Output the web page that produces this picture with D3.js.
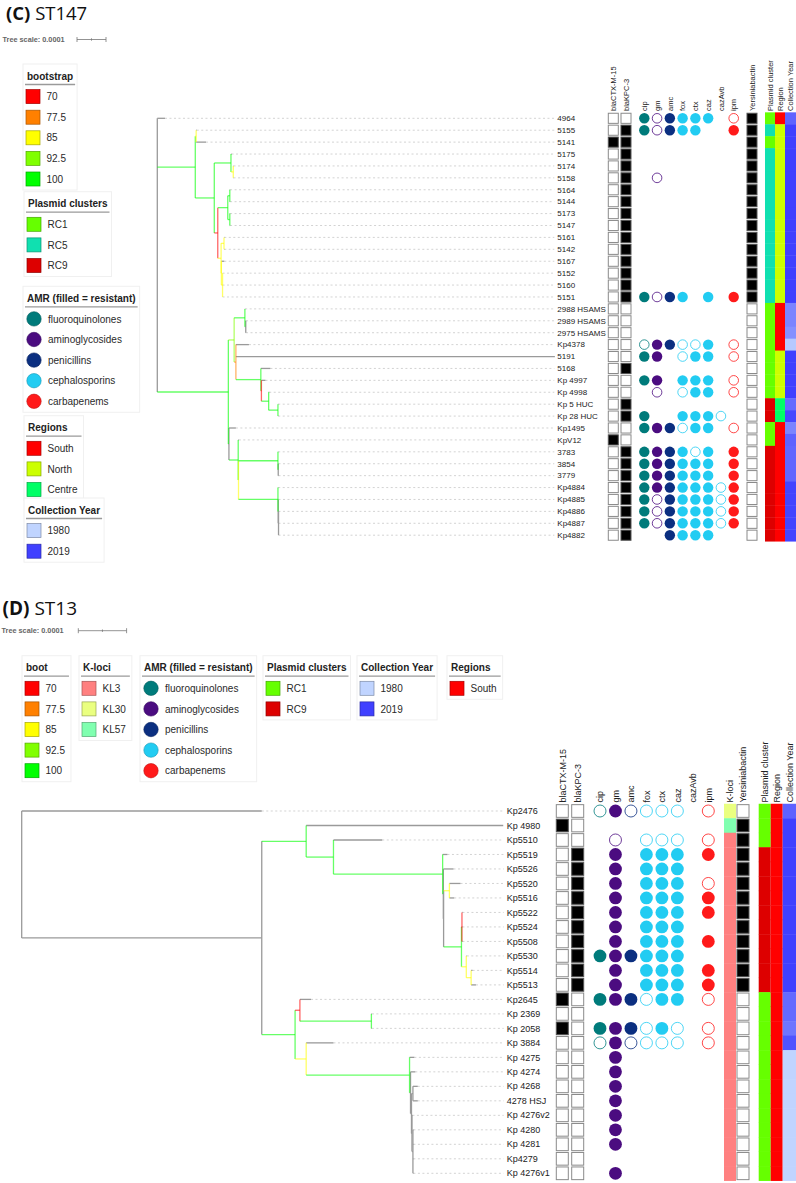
<!DOCTYPE html>
<html><head><meta charset="utf-8">
<script src="https://cdn.jsdelivr.net/npm/d3@7"></script>
<style>body{margin:0;background:#fff}svg{display:block}</style>
</head><body><svg id="c" width="796" height="1183"></svg>
<script>
// ================= DATA =================
const bootValues = [70, 77.5, 85, 92.5, 100];
const bootColors = ["#ff0000", "#ff8000", "#ffff00", "#80ff00", "#00ff00"];
const drugs = ["cip", "gm", "amc", "fox", "ctx", "caz", "cazAvb", "ipm"];
const drugClassOf = ["fluoroquinolones", "aminoglycosides", "penicillins", "cephalosporins", "cephalosporins", "cephalosporins", "cephalosporins", "carbapenems"];
const amrClasses = ["fluoroquinolones", "aminoglycosides", "penicillins", "cephalosporins", "carbapenems"];
const amrColors = ["#007b7b", "#4b0c80", "#0b2f80", "#22ccf2", "#ff1a1a"];
const plasmidNames = ["RC1", "RC5", "RC9"];
const plasmidColors = ["#66ff00", "#10e0b0", "#dd0000"];
const regionNames = ["South", "North", "Centre"];
const regionColors = ["#ff0000", "#ccff00", "#00ff66"];
const klociNames = ["KL3", "KL30", "KL57"];
const klociColors = ["#ff8080", "#eaff80", "#80ffb0"];
const yearLegend = [1980, 2019];
const yearColors = ["#c0d4ff", "#4040ff"];

// ---- ST147 (branch lengths in units of 1e-5 substitutions/site; internal labels = bootstrap)
const st147Newick = "(4964:2.65,((5155:0.2,5141:3.4)85:0.3,((5175:0.2,(5174:0.1,5158:0.1)85:0.8)100:5.75,(((5164:0.1,5144:0.1)100:0.7,(5173:0.1,5147:0.1)100:0.7)100:3.45,((5161:0.1,5142:0.1)85:1.0,(5167:1.0,(5152:0,5160:0,5151:0)85:0.4)85:0.1)85:1.15)70:1.2)100:6.55)100:13.1,(((2988 HSAMS:0.1,(2989 HSAMS:0.1,2975 HSAMS:0.1):0.3)100:3.7,(Kp4378:4.5,5191:110,(5168:3.3,(Kp 4997:1.4,(Kp 4998:0.2,(Kp 5 HUC:0.1,Kp 28 HUC:0.1)100:3.2)100:2.5)70:0.2)100:8.6)77.5:0.6)92.5:2.0,(Kp1495:2.4,(KpV12:0.2,((3783:0.1,(3854:0.1,3779:0.1):0.1)100:13.6,(Kp4884:0.1,(Kp4885:0.1,(Kp4886:0,Kp4887:0,Kp4882:0):0.1):0.1)100:13.6)85:0.1)100:3.2):0.2)100:24.5);";
const st147Isolates = ["4964","5155","5141","5175","5174","5158","5164","5144","5173","5147","5161","5142","5167","5152","5160","5151","2988 HSAMS","2989 HSAMS","2975 HSAMS","Kp4378","5191","5168","Kp 4997","Kp 4998","Kp 5 HUC","Kp 28 HUC","Kp1495","KpV12","3783","3854","3779","Kp4884","Kp4885","Kp4886","Kp4887","Kp4882"];
const st147CTX = [0,0,1,0,0,0,0,0,0,0,0,0,0,0,0,0,0,0,0,0,0,0,0,0,0,0,0,1,0,0,0,0,0,0,0,0];
const st147KPC = [0,1,1,1,1,1,1,1,1,1,1,1,1,1,1,1,0,0,0,0,0,1,0,0,1,1,0,0,1,1,1,1,1,1,1,1];
// AMR per isolate, one char per drug: R = resistant (filled), S = tested susceptible (open), . = none
const st147AMR = ["RSRRRR.S","RSRRR..R","........","........","........",".S......","........","........","........","........","........","........","........","........","........","RSRR.R.R","........","........","........","SRRSSR.S","RR.SRR.S","........","RR.RRR.S",".S.SRR.S","........","R..RRRS.","RRRSRR.S","........","RRRRSR.R","RRRRRR.R","RRRRRR.R","RRRRRRSR","RSRRRRSR","RSRRRRSR","RSRRRRSR","..RRRR.."];
const st147Ybt = [1,1,1,1,1,1,1,1,1,1,1,1,1,1,1,1,0,0,0,0,0,0,0,0,0,0,0,0,0,0,0,0,0,0,0,0];
const st147Plasmid = ["RC1","RC5","RC1","RC5","RC5","RC5","RC5","RC5","RC5","RC5","RC5","RC5","RC5","RC5","RC5","RC5","RC1","RC1","RC1","RC1","RC1","RC1","RC1","RC1","RC9","RC9","RC1","RC1","RC9","RC9","RC9","RC9","RC9","RC9","RC9","RC9"];
const st147Region = ["South","North","North","North","North","North","North","North","North","North","North","North","North","North","North","North","South","South","South","South","North","North","North","North","Centre","Centre","South","South","South","South","South","South","South","South","South","South"];
const st147Year = [2010,2019,2019,2019,2019,2019,2019,2019,2019,2019,2019,2019,2019,2019,2019,2019,2001,2001,1998,1983,2019,2019,2019,2019,2008,2017,2001,2010,2009,2009,2009,2018,2018,2018,2018,2018];

// ---- ST13
const st13Newick = "(Kp2476:49.7,((Kp 4980:40.8,(Kp5510:10.1,(Kp5519:1.0,(Kp5526:2.1,((Kp5520:2.3,Kp5516:1.0)85:1.2,((Kp5522:0.1,Kp5524:0.1,Kp5508:0.1)70:0.1,(Kp5530:0.1,(Kp5514:0.3,Kp5513:1.0)85:1.0)85:1.0)100:3.7):0.05):0.15)100:22.6)100:5.65)100:9.2,((Kp2645:2.3,(Kp 2369:0.1,Kp 2058:0.1)100:14.8)70:1.0,(Kp 3884:5.65,(Kp 4275:1.0,(Kp 4274:1.0,((Kp 4268:1.0,4278 HSJ:1.0):0.3,(Kp 4276v2:0.1,(Kp 4280:0.1,Kp 4281:0.1,Kp4279:0.1,Kp 4276v1:0.1):0.2):0.1):0.2):0.2)100:21.4)85:2.3)100:6.9):49.7);";
const st13Isolates = ["Kp2476","Kp 4980","Kp5510","Kp5519","Kp5526","Kp5520","Kp5516","Kp5522","Kp5524","Kp5508","Kp5530","Kp5514","Kp5513","Kp2645","Kp 2369","Kp 2058","Kp 3884","Kp 4275","Kp 4274","Kp 4268","4278 HSJ","Kp 4276v2","Kp 4280","Kp 4281","Kp4279","Kp 4276v1"];
const st13CTX = [0,1,0,0,0,0,0,0,0,0,0,0,0,1,0,1,0,0,0,0,0,0,0,0,0,0];
const st13KPC = [0,0,0,1,1,1,1,1,1,1,1,1,1,0,0,0,0,0,0,0,0,0,0,0,0,0];
const st13AMR = ["SRSSSS.S","........",".S.SSS.S",".R.RRR.R",".R.RRR..",".R.RRR.S",".R.RRR.R",".R.RRR.R",".R.RRR..",".R.RRR.R","RRRRRR..",".R.RRR.R",".R.RRR.R","RRRSRR.S","........","RRRSRS.S","SRSSSS.S",".R......",".R......",".R......",".R......",".R......",".R......",".R......","........",".R......"];
const st13KL = ["KL30","KL57","KL3","KL3","KL3","KL3","KL3","KL3","KL3","KL3","KL3","KL3","KL3","KL3","KL3","KL3","KL3","KL3","KL3","KL3","KL3","KL3","KL3","KL3","KL3","KL3"];
const st13Ybt = [0,1,1,1,1,1,1,1,1,1,1,1,1,0,0,0,0,0,0,0,0,0,0,0,0,0];
const st13Plasmid = ["RC1","RC1","RC1","RC9","RC9","RC9","RC9","RC9","RC9","RC9","RC9","RC9","RC9","RC1","RC1","RC1","RC1","RC1","RC1","RC1","RC1","RC1","RC1","RC1","RC1","RC1"];
const st13Region = Array(26).fill("South");
const st13Year = [2010,2019,2019,2019,2019,2019,2019,2019,2019,2019,2019,2019,2019,2008,2008,2005,2014,1980,1980,1980,1980,1980,1980,1980,1980,1980];

// ================= HELPERS =================
const FONT = '"Liberation Sans", Arial, Helvetica, sans-serif';
const svg = d3.select("#c");
const bootScale = d3.scaleOrdinal(bootValues, bootColors);
const amrScale = d3.scaleOrdinal(amrClasses, amrColors);
const plasmidScale = d3.scaleOrdinal(plasmidNames, plasmidColors);
const regionScale = d3.scaleOrdinal(regionNames, regionColors);
const klScale = d3.scaleOrdinal(klociNames, klociColors);
const yearScale = d3.scaleLinear().domain(yearLegend).range(yearColors).interpolate(d3.interpolateRgb);
const GREY = "#9a9a9a";

function parseNewick(s) {
  let i = 0;
  function node() {
    const n = {};
    const kids = [];
    if (s[i] === "(") {
      i++;
      kids.push(node());
      while (s[i] === ",") { i++; kids.push(node()); }
      i++;
    }
    let name = "";
    while (i < s.length && !",():;".includes(s[i])) name += s[i++];
    name = name.trim();
    let len = 0;
    if (s[i] === ":") { i++; let t = ""; while (i < s.length && !",();".includes(s[i])) t += s[i++]; len = +t; }
    if (kids.length) { n.children = kids; n.boot = name === "" ? null : +name; }
    else n.name = name;
    n.length = len;
    return n;
  }
  return node();
}

function drawTitle(x, y, fs, bold, rest) {
  const t = svg.append("text").attr("x", x).attr("y", y)
    .attr("font-family", '"Open Sans", "Noto Sans", sans-serif').attr("font-size", fs).attr("fill", "#111");
  t.append("tspan").attr("font-weight", "bold").text(bold);
  t.append("tspan").text(" " + rest);
}

function drawScaleBar(xText, y, x0, px) {
  svg.append("text").attr("x", xText).attr("y", y + 2.6).attr("font-family", FONT)
    .attr("font-size", 7.3).attr("font-weight", "bold").attr("fill", "#666").text("Tree scale: 0.0001");
  const sc = d3.scaleLinear().domain([0, 1e-4]).range([x0, x0 + px]);
  const g = svg.append("g").attr("stroke", "#777").attr("stroke-width", 0.8);
  g.append("line").attr("x1", sc(0)).attr("x2", sc(1e-4)).attr("y1", y).attr("y2", y);
  [0, 1e-4].forEach(v => g.append("line").attr("x1", sc(v)).attr("x2", sc(v)).attr("y1", y - 2.5).attr("y2", y + 2.5));
  g.append("line").attr("x1", sc(5e-5)).attr("x2", sc(5e-5)).attr("y1", y - 1.2).attr("y2", y + 1.2);
}

// legend: kind "square" or "circle"
function drawLegend(x, yHead, title, labels, colorFn, kind) {
  const g = svg.append("g").attr("font-family", FONT);
  const box = g.append("rect");
  const head = g.append("text").attr("x", x + 4).attr("y", yHead + 3.6)
    .attr("font-size", 10).attr("font-weight", "bold").attr("fill", "#222").text(title);
  let w = head.node().getComputedTextLength() + 8;
  const step = 20.6;
  labels.forEach((lab, i) => {
    const cy = yHead + step * (i + 1);
    const c = colorFn(lab);
    if (kind === "circle") {
      g.append("circle").attr("cx", x + 11).attr("cy", cy).attr("r", 7.2)
        .attr("fill", c).attr("stroke", d3.color(c).darker(0.8)).attr("stroke-width", 0.6);
    } else {
      g.append("rect").attr("x", x + 3).attr("y", cy - 7).attr("width", 14).attr("height", 14)
        .attr("fill", c).attr("stroke", d3.color(c).darker(1.2)).attr("stroke-width", 0.7);
    }
    const t = g.append("text").attr("x", x + (kind === "circle" ? 25 : 23.5)).attr("y", cy + 3.6)
      .attr("font-size", 10).attr("fill", "#2a2a2a").text(lab);
    w = Math.max(w, (kind === "circle" ? 25 : 23.5) + t.node().getComputedTextLength() + 6);
  });
  g.append("line").attr("x1", x + 2).attr("x2", x + w - 2).attr("y1", yHead + 8.5).attr("y2", yHead + 8.5)
    .attr("stroke", "#9a9a9a").attr("stroke-width", 1.3);
  box.attr("x", x).attr("y", yHead - 12).attr("width", w)
    .attr("height", step * labels.length + 23).attr("fill", "#fff").attr("stroke", "#f0f0f0").attr("stroke-width", 1);
}

function drawPanel(cfg) {
  const rootObj = parseNewick(cfg.newick);
  const root = d3.hierarchy(rootObj);
  const xs = d3.scaleLinear().domain([0, 1e-4]).range([cfg.x0, cfg.x0 + cfg.barPx]);
  const ys = d3.scalePoint().domain(cfg.isolates).range([cfg.yFirst, cfg.yLast]);
  root.eachBefore(d => { d.dist = d.parent ? d.parent.dist + d.data.length * 1e-5 : 0; d.px = xs(d.dist); });
  root.eachAfter(d => {
    d.py = d.children ? (d.children[0].py + d.children[d.children.length - 1].py) / 2 : ys(d.data.name);
  });
  const col = d => (d.children && d.data.boot != null) ? bootScale(d.data.boot) : GREY;
  const gt = svg.append("g");
  // dashed leaf guides
  root.leaves().forEach(d => {
    if (cfg.labelX - 3 - d.px > 4)
      gt.append("line").attr("x1", d.px).attr("x2", cfg.labelX - 3).attr("y1", d.py).attr("y2", d.py)
        .attr("stroke", "#c8c8c8").attr("stroke-width", 0.8).attr("stroke-dasharray", "2,2.5");
  });
  const nodes = root.descendants();
  const order = nodes.slice().sort((a, b) => (col(a) === GREY ? 0 : 1) - (col(b) === GREY ? 0 : 1));
  order.forEach(d => {
    const c = col(d);
    const op = c === GREY ? 1 : 0.6;
    if (d.parent) gt.append("line").attr("x1", d.parent.px).attr("x2", d.px).attr("y1", d.py).attr("y2", d.py)
      .attr("stroke", c).attr("stroke-opacity", op).attr("stroke-width", 1.3);
    if (d.children) gt.append("line").attr("x1", d.px).attr("x2", d.px)
      .attr("y1", d.children[0].py).attr("y2", d.children[d.children.length - 1].py)
      .attr("stroke", c).attr("stroke-opacity", op).attr("stroke-width", 1.3);
  });
  // leaf labels
  const gl = svg.append("g").attr("font-family", FONT).attr("font-size", cfg.labelFs).attr("fill", "#222");
  cfg.isolates.forEach(n => gl.append("text").attr("x", cfg.labelX).attr("y", ys(n) + cfg.labelFs * 0.35).text(n));

  // ---------- matrix ----------
  const rowH = ys.step();
  const gm = svg.append("g");
  const headers = [];
  const boxCol = (arr, cx, name) => {
    headers.push([name, cx]);
    arr.forEach((v, i) => {
      const y = ys(cfg.isolates[i]);
      gm.append("rect").attr("x", cx - cfg.boxW / 2 + 0.5).attr("y", y - rowH / 2 + 0.9)
        .attr("width", cfg.boxW - 1).attr("height", rowH - 1.8)
        .attr("fill", v ? "#000" : "#fff").attr("stroke", v ? "#555" : "#8a8a8a").attr("stroke-width", 1);
    });
  };
  const stripCol = (arr, x, w, scale, name) => {
    headers.push([name, x + w / 2]);
    arr.forEach((v, i) => {
      const y = ys(cfg.isolates[i]);
      gm.append("rect").attr("x", x).attr("y", y - rowH / 2).attr("width", w).attr("height", rowH + 0.4)
        .attr("fill", scale(v));
    });
  };
  boxCol(cfg.ctx, cfg.cols.ctx, "blaCTX-M-15");
  boxCol(cfg.kpc, cfg.cols.kpc, "blaKPC-3");
  const dx = d3.scalePoint().domain(drugs).range(cfg.cols.drugs);
  drugs.forEach((dr, j) => {
    headers.push([dr, dx(dr)]);
    const c = amrScale(drugClassOf[j]);
    cfg.amr.forEach((s, i) => {
      const st = s[j];
      if (st === ".") return;
      const y = ys(cfg.isolates[i]);
      gm.append("circle").attr("cx", dx(dr)).attr("cy", y).attr("r", st === "R" ? cfg.r : cfg.r - 0.4)
        .attr("fill", st === "R" ? c : "#fff").attr("stroke", c).attr("stroke-width", st === "R" ? 0 : 0.8);
    });
  });
  if (cfg.kl) stripCol(cfg.kl, cfg.cols.kl[0], cfg.cols.kl[1], klScale, "K-loci");
  boxCol(cfg.ybt, cfg.cols.ybt, "Yersiniabactin");
  stripCol(cfg.plasmid, cfg.cols.plasmid[0], cfg.cols.plasmid[1], plasmidScale, "Plasmid cluster");
  stripCol(cfg.region, cfg.cols.region[0], cfg.cols.region[1], regionScale, "Region");
  stripCol(cfg.year, cfg.cols.year[0], cfg.cols.year[1], yearScale, "Collection Year");
  const gh = svg.append("g").attr("font-family", FONT).attr("font-size", cfg.headFs).attr("fill", "#222");
  headers.forEach(([t, cx]) => {
    gh.append("text").attr("transform", `translate(${cx + cfg.headFs * 0.36},${cfg.headY}) rotate(-90)`).text(t);
  });
}

// ================= PANEL C : ST147 =================
drawTitle(6, 20, 18.5, "(C)", "ST147");
drawScaleBar(2.5, 39.5, 77, 29);
drawLegend(23, 76, "bootstrap", bootValues.map(String), v => bootScale(+v), "square");
drawLegend(24, 203.7, "Plasmid clusters", plasmidNames, plasmidScale, "square");
drawLegend(23, 298.3, "AMR (filled = resistant)", amrClasses, amrScale, "circle");
drawLegend(24, 427.7, "Regions", regionNames, regionScale, "square");
drawLegend(24, 510, "Collection Year", yearLegend.map(String), v => yearScale(+v), "square");

drawPanel({
  newick: st147Newick, isolates: st147Isolates,
  x0: 157.3, barPx: 29, yFirst: 118.3, yLast: 535.2, labelX: 557.3, labelFs: 8,
  ctx: st147CTX, kpc: st147KPC, amr: st147AMR, ybt: st147Ybt,
  plasmid: st147Plasmid, region: st147Region, year: st147Year,
  boxW: 11, r: 5.2, headFs: 7.5, headY: 111,
  cols: { ctx: 613.3, kpc: 626, drugs: [644.3, 733.7], ybt: 752, plasmid: [765, 10], region: [775, 10], year: [785, 11] }
});

// ================= PANEL D : ST13 =================
drawTitle(2.5, 614.5, 19, "(D)", "ST13");
drawScaleBar(1.5, 630.7, 78.3, 48.3);
drawLegend(22, 667.7, "boot", bootValues.map(String), v => bootScale(+v), "square");
drawLegend(79, 667.7, "K-loci", klociNames, klScale, "square");
drawLegend(140, 667.7, "AMR (filled = resistant)", amrClasses, amrScale, "circle");
drawLegend(263, 667.7, "Plasmid clusters", ["RC1", "RC9"], plasmidScale, "square");
drawLegend(357, 667.7, "Collection Year", yearLegend.map(String), v => yearScale(+v), "square");
drawLegend(447, 667.7, "Regions", ["South"], regionScale, "square");

drawPanel({
  newick: st13Newick, isolates: st13Isolates,
  x0: 21.7, barPx: 48.3, yFirst: 811, yLast: 1173.3, labelX: 506.7, labelFs: 9,
  ctx: st13CTX, kpc: st13KPC, amr: st13AMR, ybt: st13Ybt, kl: st13KL,
  plasmid: st13Plasmid, region: st13Region, year: st13Year,
  boxW: 13, r: 6.4, headFs: 9, headY: 802.5,
  cols: { ctx: 562.3, kpc: 577.7, drugs: [600, 708.3], kl: [724, 12], ybt: 743, plasmid: [758.7, 12], region: [770.7, 12], year: [782.7, 13.3] }
});
</script>
</body></html>
